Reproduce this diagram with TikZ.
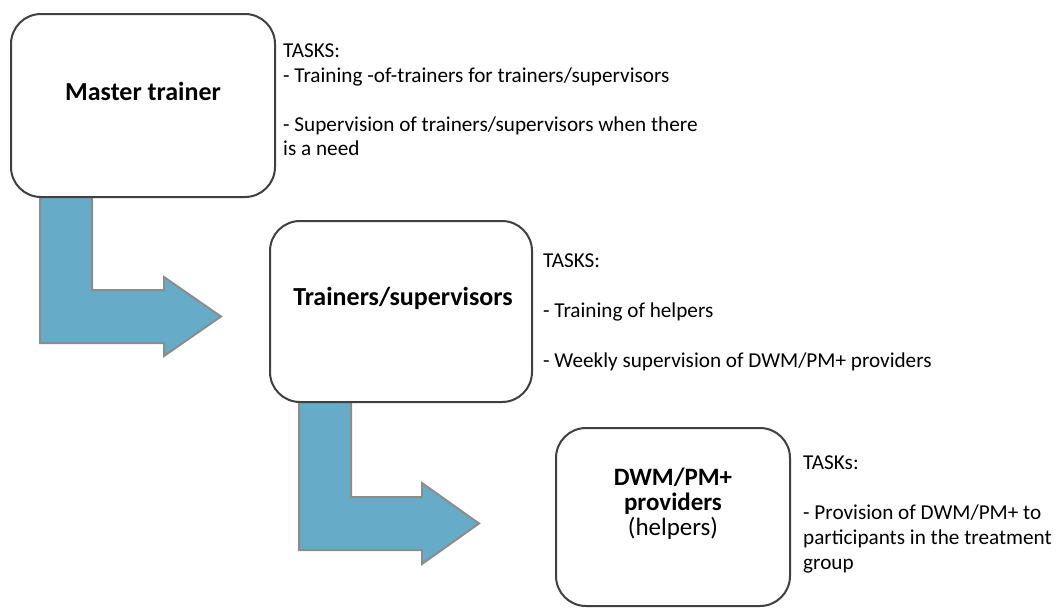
\documentclass[tikz,border=0pt]{standalone}
\usepackage{fontspec}
\setmainfont{Carlito}
\usetikzlibrary{calc,backgrounds}
\definecolor{boxline}{HTML}{404040}
\definecolor{arrowfill}{HTML}{66ACC9}
\definecolor{arrowline}{HTML}{8C8C8C}
\begin{document}
\begin{tikzpicture}[x=1pt,y=-1pt,
  box/.style={draw=boxline, line width=2pt, rounded corners=30pt, fill=white, inner sep=0pt},
  blockarrow/.style={fill=arrowfill, draw=arrowline, line width=2pt, line join=miter},
  boxlabel/.style={font=\fontsize{26}{30}\selectfont\bfseries, inner sep=0pt, anchor=base},
  smalllabel/.style={font=\fontsize{25}{28}\selectfont, inner sep=0pt, anchor=base},
  task/.style={font=\fontsize{21.2}{25}\selectfont, inner sep=0pt, anchor=base west}]
\useasboundingbox (0,0) rectangle (1061,608);
% boxes
\node[box, minimum width=264pt, minimum height=183pt] (b1) at (143,105.5) {};
\node[box, minimum width=262pt, minimum height=181pt] (b2) at (401,311.5) {};
\node[box, minimum width=234pt, minimum height=178pt] (b3) at (673,517) {};
% arrows
\begin{scope}[on background layer]
\coordinate (a1) at ($(b1.south west)+(30,-7)$);
\draw[blockarrow] (a1) -- ++(52,0) -- ++(0,99) -- ++(72,0) -- ++(0,-13) -- ++(57,39.5)
  -- ++(-57,39.5) -- ++(0,-13) -- ++(-124,0) -- cycle;
\coordinate (a2) at ($(b2.south west)+(30,-7)$);
\draw[blockarrow] (a2) -- ++(52,0) -- ++(0,101) -- ++(71,0) -- ++(0,-14) -- ++(57,40.5)
  -- ++(-57,40.5) -- ++(0,-14) -- ++(-123,0) -- cycle;
\end{scope}
% box labels
\node[boxlabel] (l1) at (143,100) {Master trainer};
\node[boxlabel] (l2) at (403,305) {Trainers/supervisors};
\node[boxlabel, font=\fontsize{25}{28}\selectfont\bfseries] (l3a) at (673,485) {DWM/PM+};
\node[boxlabel, font=\fontsize{25}{28}\selectfont\bfseries] (l3b) at (673,510) {providers};
\node[smalllabel] (l3c) at (673,535) {(helpers)};
% tasks 1
\node[task] (t1a) at (283,57.5) {TASKS:};
\node[task] (t1b) at (283,82) {- Training -of-trainers for trainers/supervisors};
\node[task] (t1c) at (283,131) {- Supervision of trainers/supervisors when there};
\node[task] (t1d) at (283,155.5) {is a need};
% tasks 2
\node[task] (t2a) at (543,267) {TASKS:};
\node[task] (t2b) at (543,317) {- Training of helpers};
\node[task] (t2c) at (543,367) {- Weekly supervision of DWM/PM+ providers};
% tasks 3
\node[task] (t3a) at (803,469) {TASKs:};
\node[task] (t3b) at (803,519) {- Provision of DWM/PM+ to};
\node[task] (t3c) at (803,544) {participants in the treatment};
\node[task] (t3d) at (803,569) {group};
\end{tikzpicture}
\end{document}
